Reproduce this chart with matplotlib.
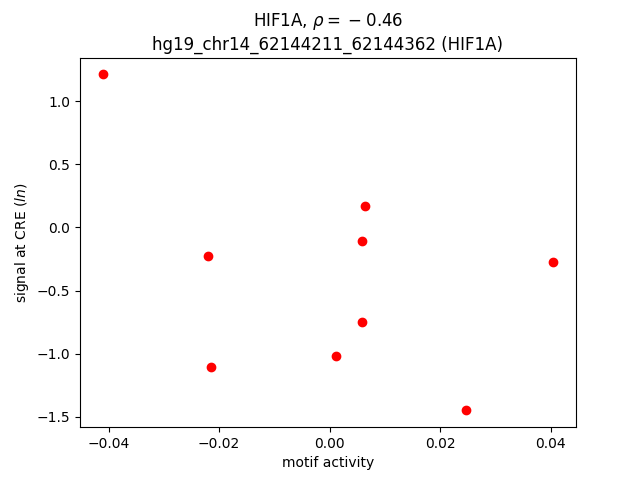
import matplotlib
matplotlib.use("Agg")
import matplotlib.pyplot as plt

motif_activity = [-0.0411, 0.00635, 0.0058, -0.0221, 0.0405, 0.0058, 0.0011, -0.0214, 0.0247]
signal = [1.211, 0.167, -0.110, -0.229, -0.277, -0.752, -1.021, -1.109, -1.449]
xticks = [-0.04, -0.02, 0.00, 0.02, 0.04]

fig, ax = plt.subplots(figsize=(6.4, 4.8), dpi=100)
ax.scatter(motif_activity, signal, c="red")
ax.set_xticks(xticks)
ax.set_xlabel("motif activity")
ax.set_ylabel(r"signal at CRE ($ln$)")
ax.set_title("HIF1A, $\\rho = \\:-\\;0.46$\nhg19_chr14_62144211_62144362 (HIF1A)")
fig.savefig("out.png")
